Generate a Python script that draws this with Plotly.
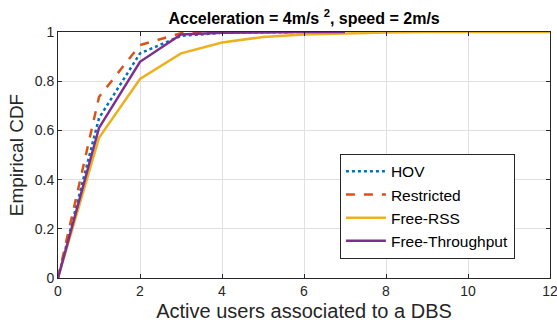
import plotly.graph_objects as go

x_hov = [0, 1, 2, 3, 4, 5, 6, 7]
y_hov = [0, 0.65, 0.913, 0.984, 0.997, 1.0, 1.0, 1.0]
x_res = [0, 1, 2, 3, 4, 5, 6, 7]
y_res = [0, 0.736, 0.947, 0.995, 1.0, 1.0, 1.0, 1.0]
x_rss = [0, 1, 2, 3, 4, 5, 6, 7, 8, 9, 10, 11, 12]
y_rss = [0, 0.57, 0.809, 0.913, 0.957, 0.98, 0.99, 0.995, 0.998, 1.0, 1.0, 1.0, 1.0]
x_thr = [0, 1, 2, 3, 4, 5, 6, 7]
y_thr = [0, 0.61, 0.879, 0.99, 0.997, 1.0, 1.0, 1.0]

FONT = "Liberation Sans, Arial"

fig = go.Figure()
fig.add_trace(go.Scatter(x=x_hov, y=y_hov, mode="lines", name="HOV",
                         line=dict(color="#0072BD", width=2.5, dash="dot")))
fig.add_trace(go.Scatter(x=x_res, y=y_res, mode="lines", name="Restricted",
                         line=dict(color="#D95319", width=2.5, dash="dash")))
fig.add_trace(go.Scatter(x=x_rss, y=y_rss, mode="lines", name="Free-RSS",
                         line=dict(color="#EDB120", width=2.5)))
fig.add_trace(go.Scatter(x=x_thr, y=y_thr, mode="lines", name="Free-Throughput",
                         line=dict(color="#7E2F8E", width=2.5)))

axis_common = dict(showline=True, linecolor="#262626", linewidth=1, mirror="ticks",
                   ticks="inside", ticklen=4, tickcolor="#262626",
                   showgrid=True, gridcolor="#E0E0E0", gridwidth=1, zeroline=False,
                   ticklabeloverflow="allow", automargin=False,
                   tickfont=dict(family=FONT, size=14, color="#262626"))

fig.update_layout(
    width=557, height=329,
    margin=dict(l=58, r=7, t=32, b=51),
    paper_bgcolor="white", plot_bgcolor="white",
    title=dict(text="<b>Acceleration = 4m/s <sup>2</sup>, speed = 2m/s</b>",
               x=0.546, xanchor="center", y=0.945, yanchor="middle",
               font=dict(family=FONT, size=16, color="black")),
    xaxis=dict(range=[0, 12], tickvals=[0, 2, 4, 6, 8, 10, 12],
               title=dict(text="Active users associated to a DBS", standoff=6,
                          font=dict(family=FONT, size=20, color="#262626")),
               **axis_common),
    yaxis=dict(range=[0, 1], tickvals=[0, 0.2, 0.4, 0.6, 0.8, 1],
               ticktext=["0", "0.2", "0.4", "0.6", "0.8", "1"],
               title=dict(text="Empirical CDF", standoff=6,
                          font=dict(family=FONT, size=19, color="#262626")),
               **axis_common),
    legend=dict(x=0.573, y=0.505, xanchor="left", yanchor="top",
                bgcolor="white", bordercolor="#262626", borderwidth=1,
                font=dict(family=FONT, size=15.5, color="black"),
                tracegroupgap=0, itemwidth=40),
    showlegend=True,
)

fig.write_html("out.html")
